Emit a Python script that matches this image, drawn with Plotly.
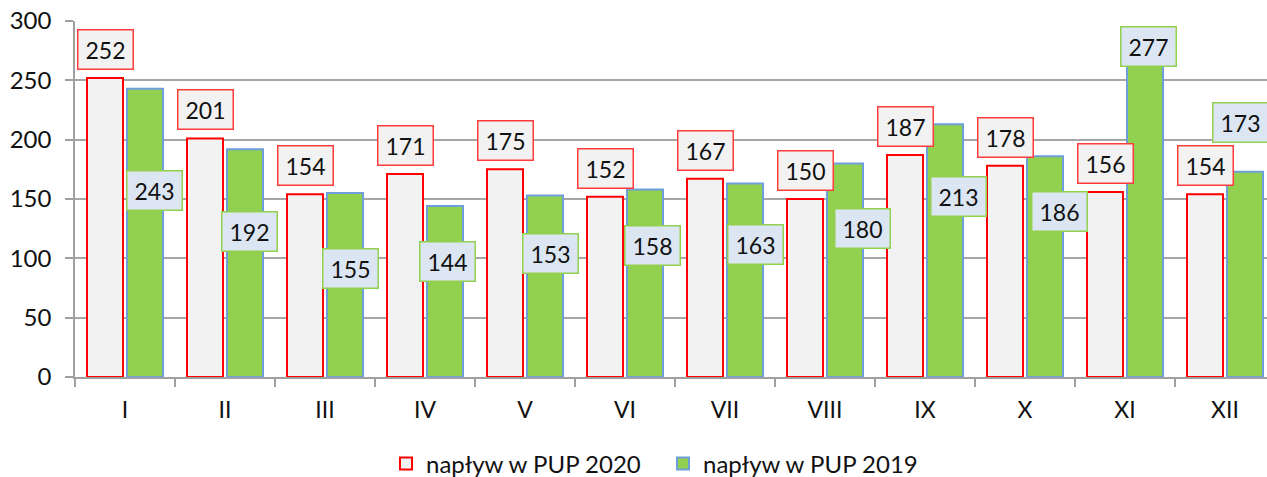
import plotly.graph_objects as go

months = ["I", "II", "III", "IV", "V", "VI", "VII", "VIII", "IX", "X", "XI", "XII"]
v2020 = [252, 201, 154, 171, 175, 152, 167, 150, 187, 178, 156, 154]
v2019 = [243, 192, 155, 144, 153, 158, 163, 180, 213, 186, 277, 173]
name2020 = "napływ w PUP 2020"
name2019 = "napływ w PUP 2019"

# label placement (pixel offsets) for the 2019 labels, as placed in the original
g_dx = [29, 24, 25, 22, 25, 27, 30, 37, 33, 34, 23, 15]
g_dy = [-102, -82, -75, -55, -58, -56, -61, -65, -72, -55, 2, 49]

FONT = "Lato"
fig = go.Figure()
fig.add_trace(go.Bar(x=months, y=v2020, name=name2020,
                     marker=dict(color="#F2F2F2", line=dict(color="#FF0000", width=2))))
fig.add_trace(go.Bar(x=months, y=v2019, name=name2019,
                     marker=dict(color="#92D050", line=dict(color="#6E9FDA", width=2))))

ann = []
for i, m in enumerate(months):
    ann.append(dict(x=m, y=v2020[i], xref="x", yref="y", text=str(v2020[i]), showarrow=False,
                    xshift=-20, yanchor="bottom", yshift=8, width=54, height=38,
                    bgcolor="#F2F2F2", bordercolor="#FF3B3B", borderwidth=1.5, borderpad=0,
                    font=dict(family=FONT, size=23, color="#111111")))
    ann.append(dict(x=m, y=v2019[i], xref="x", yref="y", text=str(v2019[i]), showarrow=False,
                    xshift=g_dx[i], yanchor="middle", yshift=g_dy[i], width=54, height=38,
                    bgcolor="#DCE6F2", bordercolor="#92D050", borderwidth=1.5, borderpad=0,
                    font=dict(family=FONT, size=23, color="#111111")))

fig.update_layout(
    width=1267, height=477,
    margin=dict(l=75, r=0, t=21, b=100, autoexpand=False),
    paper_bgcolor="white", plot_bgcolor="white",
    barmode="group", bargap=0.2, bargroupgap=0.1,
    font=dict(family=FONT, size=23, color="#111111"),
    annotations=ann,
    legend=dict(orientation="h", x=0.5233, xref="container", xanchor="center",
                y=0.0273, yref="container", yanchor="middle",
                font=dict(family=FONT, size=24, color="#111111"), itemwidth=30,
                entrywidth=232, tracegroupgap=0),
    xaxis=dict(range=[-0.5, 11.42], showgrid=False, showline=True, linecolor="#A0A0A0",
               linewidth=1.5, ticks="outside", tickson="boundaries", ticklen=8,
               tickcolor="#A0A0A0", tickwidth=1.5, tickfont=dict(size=23),
               automargin=False, ticklabelstandoff=12),
    yaxis=dict(range=[0, 300], dtick=50, showgrid=True, gridcolor="#A6A6A6", gridwidth=1.5,
               showline=True, linecolor="#A0A0A0", linewidth=1.5, ticks="outside",
               ticklen=8, tickcolor="#A0A0A0", tickwidth=1.5, zeroline=False,
               tickfont=dict(size=24), automargin=False, ticklabelstandoff=9,
               ticklabeloverflow="allow"),
)
# remove the browser's default 8px body margin so the figure fills the window exactly
fig.write_html("out.html", config={"displayModeBar": False},
               post_script="document.body.style.margin='0';document.body.style.overflow='hidden';")
